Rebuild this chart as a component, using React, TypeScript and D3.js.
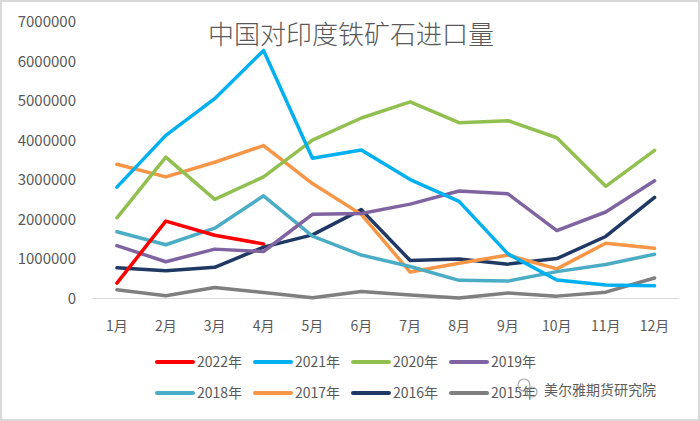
import React from "react";
import * as d3 from "d3";

const months = ["1月","2月","3月","4月","5月","6月","7月","8月","9月","10月","11月","12月"];
const yTicks = [0,1000000,2000000,3000000,4000000,5000000,6000000,7000000];

const s2022 = [390000,1960000,1600000,1380000];
const s2021 = [2820000,4130000,5060000,6280000,3550000,3760000,3010000,2460000,1130000,470000,340000,320000];
const s2020 = [2040000,3580000,2510000,3080000,4010000,4570000,4980000,4450000,4500000,4070000,2840000,3750000];
const s2019 = [1340000,930000,1250000,1190000,2130000,2150000,2390000,2720000,2650000,1720000,2190000,2980000];
const s2018 = [1690000,1360000,1780000,2600000,1580000,1100000,810000,460000,440000,680000,860000,1120000];
const s2017 = [3400000,3080000,3450000,3870000,2910000,2130000,670000,890000,1100000,750000,1400000,1270000];
const s2016 = [780000,700000,790000,1300000,1610000,2250000,960000,1000000,870000,1010000,1570000,2560000];
const s2015 = [220000,70000,280000,150000,20000,180000,90000,10000,140000,60000,160000,520000];

const series = [
  { name: "2022年", values: s2022, color: "#FF0000" },
  { name: "2021年", values: s2021, color: "#00B0F0" },
  { name: "2020年", values: s2020, color: "#92C050" },
  { name: "2019年", values: s2019, color: "#8064A2" },
  { name: "2018年", values: s2018, color: "#4BACC6" },
  { name: "2017年", values: s2017, color: "#F79646" },
  { name: "2016年", values: s2016, color: "#1F3864" },
  { name: "2015年", values: s2015, color: "#7F7F7F" },
];

const drawOrder = ["2015年","2016年","2017年","2018年","2019年","2020年","2021年","2022年"];

export default function App() {
  const W = 700, H = 421;
  const x = d3.scaleBand<string>().domain(months).range([92.5, 679]);
  const y = d3.scaleLinear().domain([0, 7000000]).range([298.5, 22]);
  const line = d3.line<number>()
    .x((_, i) => (x(months[i]) as number) + x.bandwidth() / 2)
    .y((d) => y(d));
  const font = "'Noto Sans CJK SC', 'Noto Sans', sans-serif";
  const textColor = "#595959";
  const ordered = drawOrder.map((n) => series.find((s) => s.name === n)!);
  const legendX = [155, 253, 351, 449];
  const legendY = [362, 393];
  return (
    <svg width={W} height={H} style={{ position: "absolute", left: 0, top: 0 }} fontFamily={font}>
      <rect x={0} y={0} width={W} height={H} fill="#ffffff" />
      <rect x={1} y={1} width={W - 2} height={H - 2} fill="none" stroke="#d9d9d9" strokeWidth={2} />
      <text x={351} y={44} textAnchor="middle" fontSize={26} fontWeight={300} fill={textColor}>中国对印度铁矿石进口量</text>
      {yTicks.map((t) => (
        <text key={t} x={76} y={y(t)} dy="0.35em" textAnchor="end" fontSize={15} fill={textColor}>{t}</text>
      ))}
      <line x1={92.5} x2={679} y1={y(0)} y2={y(0)} stroke="#d9d9d9" strokeWidth={1} />
      {months.map((m) => (
        <text key={m} x={(x(m) as number) + x.bandwidth() / 2} y={326} dy="0.35em" textAnchor="middle" fontSize={14} fill={textColor}>{m}</text>
      ))}
      {ordered.map((s) => (
        <path key={s.name} d={line(s.values) || ""} fill="none" stroke={s.color} strokeWidth={3.5} strokeLinejoin="round" strokeLinecap="round" />
      ))}
      {series.map((s, i) => {
        const lx = legendX[i % 4];
        const ly = legendY[Math.floor(i / 4)];
        return (
          <g key={s.name}>
            <line x1={lx + 2} x2={lx + 38} y1={ly} y2={ly} stroke={s.color} strokeWidth={4} strokeLinecap="round" />
            <text x={lx + 42} y={ly} dy="0.35em" fontSize={14} fill={textColor}>{s.name}</text>
          </g>
        );
      })}
      <g opacity={0.85}>
        <circle cx={524} cy={385} r={6} fill="none" stroke="#9a9a9a" strokeWidth={1.2} />
        <circle cx={532} cy={392} r={5} fill="none" stroke="#9a9a9a" strokeWidth={1.2} />
        <text x={544} y={390} dy="0.35em" fontSize={14} fill="#404040">美尔雅期货研究院</text>
      </g>
    </svg>
  );
}
